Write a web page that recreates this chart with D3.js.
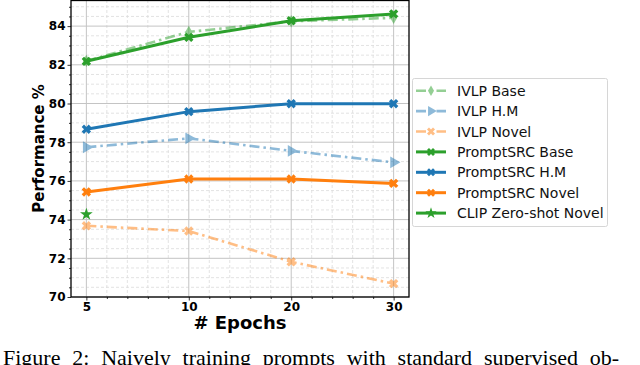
<!DOCTYPE html>
<html>
<head>
<meta charset="utf-8">
<script src="https://cdn.jsdelivr.net/npm/d3@7"></script>
<style>
  body { margin: 0; background: #fff; }
  svg { display: block; }
</style>
</head>
<body>
<script>

// values
const epochs = ["5", "10", "20", "30"];
const ivlpBase = [82.2, 83.7, 84.25, 84.43];
const ivlpHM = [77.74, 78.2, 77.55, 76.96];
const ivlpNovel = [73.68, 73.41, 71.82, 70.69];
const srcBase = [82.18, 83.42, 84.28, 84.63];
const srcHM = [78.67, 79.58, 79.99, 79.99];
const srcNovel = [75.43, 76.1, 76.1, 75.87];
const clipNovel = 74.27;
const yTicks = [70, 72, 74, 76, 78, 80, 82, 84];

const W = 640, H = 365;
const pLeft = 71, pRight = 409, pTop = 0, pBottom = 297;

const svg = d3.select("body").append("svg")
  .attr("width", W).attr("height", H);

const x = d3.scaleLinear().domain([-0.15, 3.15]).range([pLeft, pRight]);
const y = d3.scaleLinear().domain([70, 85.35]).range([pBottom, pTop]);

const green = "#2ca02c", blue = "#1f77b4", orange = "#ff7f0e";

const series = [
  {name: "IVLP Base", values: ivlpBase, color: green, light: true, marker: "diamond"},
  {name: "IVLP H.M", values: ivlpHM, color: blue, light: true, marker: "tri"},
  {name: "IVLP Novel", values: ivlpNovel, color: orange, light: true, marker: "x"},
  {name: "PromptSRC Base", values: srcBase, color: green, light: false, marker: "x"},
  {name: "PromptSRC H.M", values: srcHM, color: blue, light: false, marker: "x"},
  {name: "PromptSRC Novel", values: srcNovel, color: orange, light: false, marker: "x"}
];

// grid: minor first
const minorX = [];
for (let i = 0; i < epochs.length - 1; i++)
  for (let k = 1; k < 5; k++) minorX.push(i + k / 5);
const minorY = d3.range(70.5, 85.3, 0.5).filter(v => Math.abs(v - Math.round(v / 2) * 2) > 0.01);

const grid = svg.append("g");
grid.selectAll(".mx").data(minorX).join("line")
  .attr("x1", d => x(d)).attr("x2", d => x(d))
  .attr("y1", pTop).attr("y2", pBottom)
  .attr("stroke", "#dcdcdc").attr("stroke-width", 0.8).attr("stroke-dasharray", "3,2");
grid.selectAll(".my").data(minorY).join("line")
  .attr("x1", pLeft).attr("x2", pRight)
  .attr("y1", d => y(d)).attr("y2", d => y(d))
  .attr("stroke", "#dcdcdc").attr("stroke-width", 0.8).attr("stroke-dasharray", "3,2");
grid.selectAll(".gx").data(epochs).join("line")
  .attr("x1", (d, i) => x(i)).attr("x2", (d, i) => x(i))
  .attr("y1", pTop).attr("y2", pBottom)
  .attr("stroke", "#c4c4c4").attr("stroke-width", 1);
grid.selectAll(".gy").data(yTicks).join("line")
  .attr("x1", pLeft).attr("x2", pRight)
  .attr("y1", d => y(d)).attr("y2", d => y(d))
  .attr("stroke", "#c4c4c4").attr("stroke-width", 1);

// marker shapes; returns extra rotation
function marker(sel, type, color, size) {
  let rot = "";
  if (type === "tri") {
    sel.attr("d", d3.symbol(d3.symbolTriangle, size * 1.1)());
    rot = "rotate(90)";
  } else if (type === "diamond") {
    sel.attr("d", d3.symbol(d3.symbolDiamond, size * 0.8)());
  } else if (type === "star") {
    sel.attr("d", d3.symbol(d3.symbolStar, size)());
  } else {
    sel.attr("d", d3.symbol(d3.symbolCross, size)());
    rot = "rotate(45)";
  }
  sel.attr("fill", color);
  return rot;
}

const line = d3.line().x((d, i) => x(i)).y(d => y(d));
const plot = svg.append("g");

series.forEach(s => {
  const g = plot.append("g").attr("opacity", s.light ? 0.5 : 1);
  g.append("path")
    .attr("d", line(s.values))
    .attr("fill", "none")
    .attr("stroke", s.color)
    .attr("stroke-width", s.light ? 2.6 : 3)
    .attr("stroke-dasharray", s.light ? "10,4,2.5,4" : null);
  s.values.forEach((v, i) => {
    const m = g.append("path");
    const rot = marker(m, s.marker, s.color, 55);
    m.attr("transform", `translate(${x(i)},${y(v)}) ${rot}`);
  });
});

// zero-shot CLIP point
const star = plot.append("path");
marker(star, "star", green, 50);
star.attr("transform", `translate(${x(0)},${y(clipNovel)})`);

// axes
const fontB = "'DejaVu Sans', sans-serif";
const yAxis = svg.append("g").attr("transform", `translate(${pLeft},0)`)
  .call(d3.axisLeft(y).tickValues(yTicks).tickSize(3.5).tickPadding(2).tickFormat(d3.format("d")));
const yMinor = svg.append("g").attr("transform", `translate(${pLeft},0)`)
  .call(d3.axisLeft(y).tickValues(minorY).tickSize(2).tickFormat(""));
const xAxis = svg.append("g").attr("transform", `translate(0,${pBottom})`)
  .call(d3.axisBottom(x).tickValues(d3.range(epochs.length)).tickSize(3.5).tickPadding(2)
    .tickFormat(i => epochs[i]));
const xMinor = svg.append("g").attr("transform", `translate(0,${pBottom})`)
  .call(d3.axisBottom(x).tickValues(minorX).tickSize(2).tickFormat(""));

[yAxis, yMinor, xAxis, xMinor].forEach(a => {
  a.select(".domain").remove();
  a.selectAll("line").attr("stroke", "#000").attr("stroke-width", 0.8);
  a.selectAll("text").attr("font-family", fontB).attr("font-weight", "bold")
    .attr("font-size", 12).attr("fill", "#000");
});

svg.append("rect")
  .attr("x", pLeft).attr("y", pTop + 0.5)
  .attr("width", pRight - pLeft).attr("height", pBottom - pTop - 0.5)
  .attr("fill", "none").attr("stroke", "#000").attr("stroke-width", 1.3);

// axis titles
svg.append("text")
  .attr("transform", `translate(44,148.5) rotate(-90)`)
  .attr("text-anchor", "middle")
  .attr("font-family", fontB).attr("font-weight", "bold").attr("font-size", 15)
  .text("Performance %");

svg.append("text")
  .attr("x", 240).attr("y", 329)
  .attr("text-anchor", "middle")
  .attr("font-family", fontB).attr("font-weight", "bold").attr("font-size", 18)
  .text("# Epochs");

// legend
const legend = svg.append("g");
legend.append("rect")
  .attr("x", 412.5).attr("y", 78.5).attr("width", 195).attr("height", 148)
  .attr("rx", 2).attr("fill", "#fff").attr("stroke", "#d6d6d6").attr("stroke-width", 1);

const legendItems = series.concat([{name: "CLIP Zero-shot Novel", color: green, light: false, marker: "star"}]);
legendItems.forEach((s, i) => {
  const cy = 90.7 + i * 20.4;
  const g = legend.append("g");
  const hg = g.append("g").attr("opacity", s.light ? 0.5 : 1);
  hg.append("line")
    .attr("x1", 416).attr("x2", 446).attr("y1", cy).attr("y2", cy)
    .attr("stroke", s.color).attr("stroke-width", s.light ? 2.6 : 3)
    .attr("stroke-dasharray", s.light ? "10,4,2.5,4" : null);
  const m = hg.append("path");
  const rot = marker(m, s.marker, s.color, 40);
  m.attr("transform", `translate(431,${cy}) ${rot}`);
  g.append("text")
    .attr("x", 457).attr("y", cy + 5)
    .attr("font-family", "'DejaVu Sans', sans-serif").attr("font-size", 14)
    .attr("fill", "#111")
    .text(s.name);
});

// caption (justified line, cut by the bottom edge as in the figure)
const cap = svg.append("text")
  .attr("x", 3).attr("y", 364.5)
  .attr("font-family", "'Liberation Serif', 'Times New Roman', serif").attr("font-size", 22)
  .attr("fill", "#000")
  .text("Figure 2:  Naively training prompts with standard supervised ob-");
const natural = cap.node().getComputedTextLength();
const spaces = 11;
cap.attr("word-spacing", Math.max(0, (635 - natural) / spaces));

</script>
</body>
</html>
